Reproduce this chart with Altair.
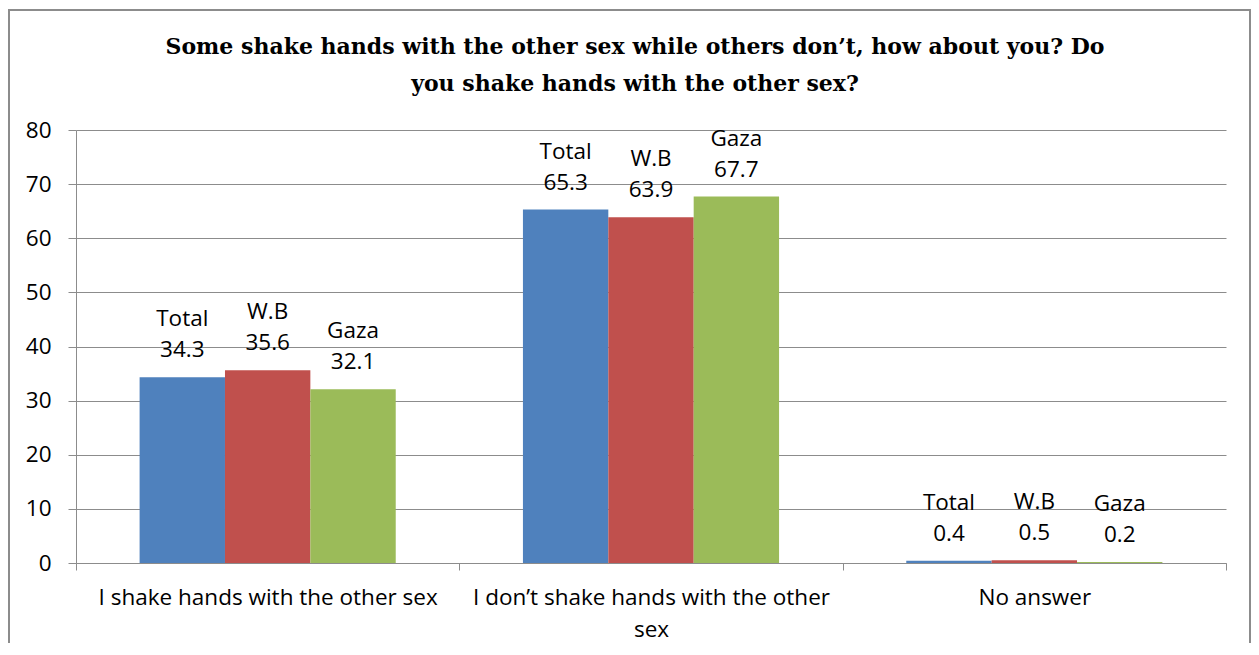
import altair as alt
import pandas as pd

categories = ["I shake hands with the other sex", "I don’t shake hands with the other sex", "No answer"]
series = ["Total", "W.B", "Gaza"]
total = [34.3, 65.3, 0.4]
wb = [35.6, 63.9, 0.5]
gaza = [32.1, 67.7, 0.2]
colors = ["#4F81BD", "#C0504D", "#9BBB59"]
y_ticks = [0, 10, 20, 30, 40, 50, 60, 70, 80]
title_lines = ["Some shake hands with the other sex while others don’t, how about you? Do",
               "you shake hands with the other sex?"]

rows = []
for s, vals in zip(series, [total, wb, gaza]):
    for c, v in zip(categories, vals):
        rows.append({"cat": c, "series": s, "value": v, "label": f"{s}\n{v}"})
df = pd.DataFrame(rows)

FONT = "Open Sans"
FS = 22.5
GRID = "#8c8c8c"

x = alt.X("cat:N", sort=categories,
          scale=alt.Scale(paddingInner=0, paddingOuter=0),
          axis=alt.Axis(title=None, labelAngle=0, tickBand="extent", tickSize=7,
                        tickColor=GRID, domainColor=GRID, labelFont=FONT, labelFontSize=FS,
                        labelColor="black", labelPadding=16, labelLineHeight=32,
                        labelBaseline="top",
                        labelExpr="datum.label == 'I don’t shake hands with the other sex' ? ['I don’t shake hands with the other', 'sex'] : datum.label",
                        labelLimit=500))
xo = alt.XOffset("series:N", sort=series,
                 scale=alt.Scale(paddingInner=0, paddingOuter=0.745))
y = alt.Y("value:Q", scale=alt.Scale(domain=[0, 80]),
          axis=alt.Axis(title=None, values=y_ticks, grid=True, gridColor=GRID,
                        domainColor=GRID, tickColor=GRID, tickSize=8, labelPadding=17,
                        labelFont=FONT, labelFontSize=FS, labelColor="black"))

base = alt.Chart(df)

bars = base.mark_bar().encode(
    x=x, xOffset=xo, y=y,
    color=alt.Color("series:N", sort=series,
                    scale=alt.Scale(domain=series, range=colors), legend=None),
)

labels = base.mark_text(font=FONT, fontSize=FS, lineBreak="\n", lineHeight=31,
                        baseline="alphabetic", align="center", dy=-51,
                        color="black").encode(
    x=x, xOffset=xo, y=y, text="label:N")

border = base.mark_rect(fillOpacity=0, stroke="#8c8c8c", strokeWidth=1.5).encode(
    x=alt.value(-67), x2=alt.value(1174), y=alt.value(-120), y2=alt.value(720))

chart = alt.layer(border, bars, labels).properties(
    width=1150, height=433,
    padding={"left": 68, "top": 122, "right": 25, "bottom": 80},
    autosize=alt.AutoSizeParams(type="none"),
    title=alt.TitleParams(text=title_lines, font="DejaVu Serif", fontSize=22,
                          fontWeight="bold", color="black", anchor="middle",
                          baseline="alphabetic",
                          frame="group", dx=-16, offset=-104, lineHeight=37),
).configure_view(stroke=None)

chart.save("out.html", embed_options={"renderer": "svg", "actions": False})
